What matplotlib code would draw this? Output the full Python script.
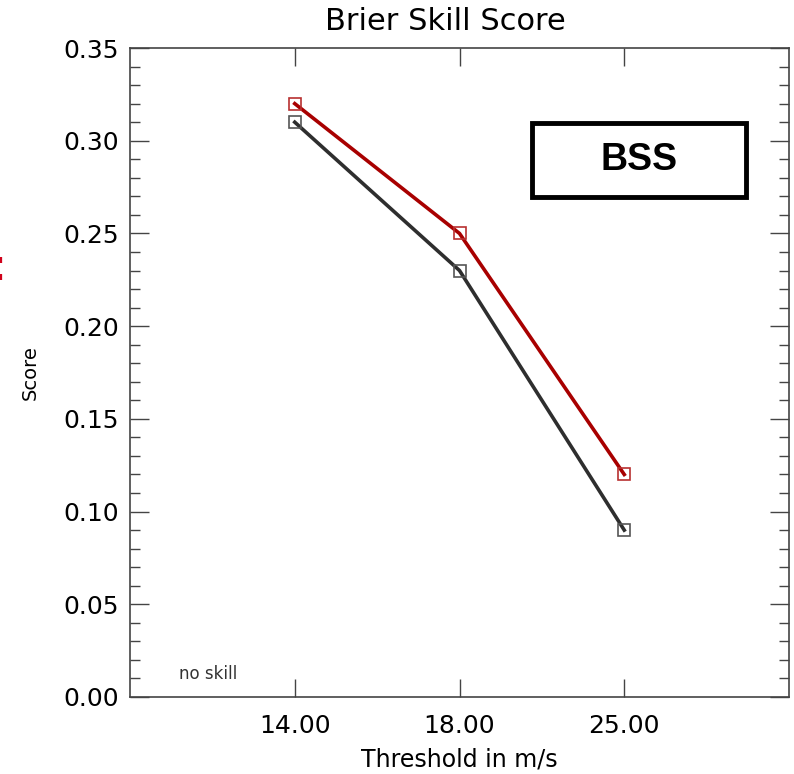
import matplotlib
matplotlib.use("Agg")
import matplotlib.pyplot as plt
from matplotlib.patches import Rectangle
from matplotlib.ticker import MultipleLocator, AutoMinorLocator, FormatStrFormatter

# data
thresholds = ['14.00', '18.00', '25.00']
bss_red = [0.32, 0.25, 0.12]
bss_black = [0.31, 0.23, 0.09]

x = list(range(1, len(thresholds) + 1))

fig = plt.figure(figsize=(7.94, 7.74), dpi=100)
ax = fig.add_axes([130 / 794, 77 / 774, 659 / 794, 649 / 774])

ax.plot(x, bss_red, color='#a80000', lw=2.6, marker='s', ms=9,
        mfc='none', mec='#b83030', mew=1.2, zorder=3)
ax.plot(x, bss_black, color='#2e2e2e', lw=2.6, marker='s', ms=9,
        mfc='none', mec='#555555', mew=1.2, zorder=3)

ax.set_xlim(0, len(thresholds) + 1)
ax.set_ylim(0, 0.35)
ax.set_xticks(x)
ax.set_xticklabels(thresholds)
ax.yaxis.set_major_locator(MultipleLocator(0.05))
ax.yaxis.set_minor_locator(AutoMinorLocator(5))
ax.yaxis.set_major_formatter(FormatStrFormatter('%.2f'))

ax.tick_params(axis='both', which='both', direction='in', top=True, right=True,
               color='#444444', width=1.0, labelsize=18)
ax.tick_params(axis='y', which='major', length=14, pad=8)
ax.tick_params(axis='y', which='minor', length=7)
ax.tick_params(axis='x', which='major', length=13, pad=12)
for s in ax.spines.values():
    s.set_color('#444444')
    s.set_linewidth(1.2)

ax.set_xlabel('Threshold in m/s', fontsize=17, va='center')
ax.xaxis.set_label_coords(0.5, -0.097)
ax.set_ylabel('Score', fontsize=14, va='center')
ax.yaxis.set_label_coords(-0.152, 0.5)
fig.text(445 / 794, 1 - 22 / 774, 'Brier Skill Score', fontsize=22,
         ha='center', va='center')

ax.text(0.074, 0.035, 'no skill', transform=ax.transAxes, fontsize=12,
        color='#333333', va='center')

# BSS label box
ax.add_patch(Rectangle((0.61, 0.771), 0.324, 0.113, transform=ax.transAxes,
                       fill=False, ec='black', lw=3.5, zorder=4))
ax.text(0.772, 0.8275, 'BSS', transform=ax.transAxes, fontsize=27,
        fontweight='bold', family='Liberation Sans', ha='center', va='center')

# clipped red mark at the left edge (cut off in the reference too)
fig.text(-0.012, 1 - 268 / 774, ':', fontsize=34, fontweight='bold',
         color='#d0021b', ha='left', va='center', family='Liberation Sans')

fig.savefig('out.png', dpi=100)
